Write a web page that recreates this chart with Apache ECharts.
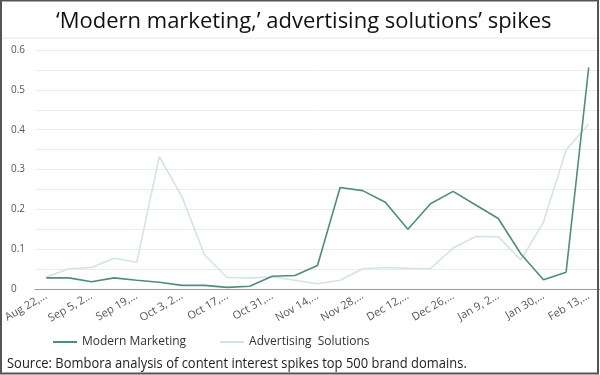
<!DOCTYPE html>
<html><head><meta charset="utf-8">
<script src="https://cdn.jsdelivr.net/npm/echarts@6/dist/echarts.min.js"></script>
<style>html,body{margin:0;padding:0;background:#fff}#c{width:600px;height:375px}</style>
</head><body><div id="c"></div>
<script>
const categories = ["Aug 22, 2021","Aug 29, 2021","Sep 5, 2021","Sep 12, 2021","Sep 19, 2021","Sep 26, 2021","Oct 3, 2021","Oct 10, 2021","Oct 17, 2021","Oct 24, 2021","Oct 31, 2021","Nov 7, 2021","Nov 14, 2021","Nov 21, 2021","Nov 28, 2021","Dec 5, 2021","Dec 12, 2021","Dec 19, 2021","Dec 26, 2021","Jan 2, 2022","Jan 9, 2022","Jan 23, 2022","Jan 30, 2022","Feb 6, 2022","Feb 13, 2022"];
const modernMarketing = [0.028,0.028,0.018,0.028,0.022,0.017,0.009,0.009,0.004,0.007,0.032,0.034,0.059,0.255,0.247,0.218,0.150,0.214,0.245,0.211,0.177,0.088,0.023,0.042,0.556];
const advertisingSolutions = [0.030,0.051,0.054,0.077,0.067,0.332,0.232,0.086,0.029,0.028,0.030,0.022,0.013,0.022,0.051,0.054,0.052,0.051,0.103,0.132,0.131,0.073,0.168,0.349,0.414];
const seriesNames = ["Modern Marketing","Advertising  Solutions"];
const titleText = "\u2018Modern marketing,\u2019 advertising solutions\u2019 spikes";
const sourceText = "Source: Bombora analysis of content interest spikes top 500 brand domains.";

const font = '"Open Sans", sans-serif';
const labelFont = '11px "Open Sans", sans-serif';
const ctx = document.createElement('canvas').getContext('2d');
ctx.font = labelFont;
const MAXW = 51;
function truncLabel(s){
  if (ctx.measureText(s).width <= MAXW) return s;
  for (let n = s.length - 1; n > 0; n--) {
    const t = s.slice(0, n).replace(/\s+$/, '') + '...';
    if (ctx.measureText(t).width <= MAXW) return t;
  }
  return '...';
}

const chart = echarts.init(document.getElementById('c'), null, {renderer:'canvas'});
chart.setOption({
  animation:false,
  textStyle:{fontFamily:font},
  title:{text:titleText,left:51,top:6,textStyle:{fontFamily:font,fontSize:22,fontWeight:'normal',color:'#111'}},
  grid:{left:35,right:-2,top:50,bottom:86},
  legend:{left:48,top:331,icon:'rect',itemWidth:24,itemHeight:2,itemGap:34,
    textStyle:{fontFamily:font,fontSize:12,color:'#333'},
    data:seriesNames},
  xAxis:{type:'category',data:categories,boundaryGap:true,
    axisLine:{lineStyle:{color:'#9a9a9a',width:1}},axisTick:{show:false},
    axisLabel:{interval:1,rotate:30,fontFamily:font,fontSize:11,color:'#555',margin:6,
      formatter:truncLabel}},
  yAxis:{type:'value',min:0,max:0.6,interval:0.1,
    axisLabel:{fontFamily:font,fontSize:10,color:'#555',margin:24,align:'left'},
    axisLine:{show:false},axisTick:{show:false},
    splitLine:{lineStyle:{color:'#ebebeb',width:1}},
    minorTick:{show:false,splitNumber:2},
    minorSplitLine:{show:true,lineStyle:{color:'#ebebeb',width:1}}},
  graphic:[
    {type:'line',shape:{x1:0,y1:38,x2:600,y2:38},style:{stroke:'#e6e6e6',lineWidth:1},z:10},
    {type:'text',x:7,y:364,scaleX:0.925,originX:0,
      style:{text:sourceText,font:'14px "Open Sans", sans-serif',fill:'#222',verticalAlign:'middle'}},
    {type:'rect',shape:{x:1,y:0.5,width:597,height:373},style:{fill:'none',stroke:'#555',lineWidth:2},z:100}
  ],
  series:[
    {name:seriesNames[0],type:'line',data:modernMarketing,symbol:'none',z:3,
      lineStyle:{color:'#4f8b82',width:1.6},itemStyle:{color:'#4f8b82'}},
    {name:seriesNames[1],type:'line',data:advertisingSolutions,symbol:'none',z:2,
      lineStyle:{color:'#d3e5e0',width:1.6},itemStyle:{color:'#d3e5e0'}}
  ]
});
</script></body></html>
